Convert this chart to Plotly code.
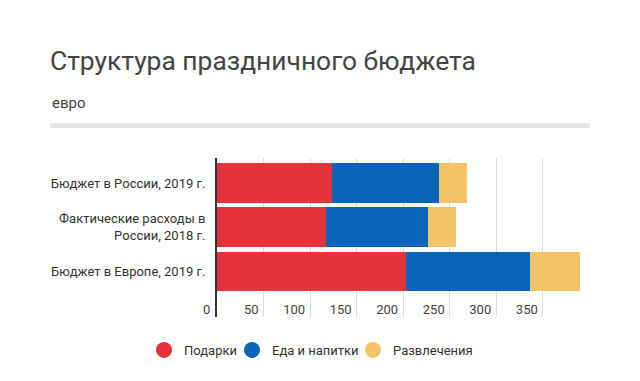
import plotly.graph_objects as go

categories = ["Бюджет в России, 2019 г.", "Фактические расходы в<br>России, 2018 г.", "Бюджет в Европе, 2019 г."]
series_names = ["Подарки", "Еда и напитки", "Развлечения"]
gifts = [124, 117, 203]
food = [114, 110, 133]
fun = [31, 30, 54]
x_ticks = [0, 50, 100, 150, 200, 250, 300, 350]
colors = ["#e5323b", "#0a64b8", "#f3c465"]

FONT = "Roboto"
fig = go.Figure()
for name, vals, col in zip(series_names, [gifts, food, fun], colors):
    fig.add_trace(go.Bar(y=categories, x=vals, name=name, orientation="h",
                         marker=dict(color=col, line=dict(width=0)), showlegend=False))

legend_px = [144, 232, 353]  # left edge of each legend box, in pixels
legend_names = ["legend", "legend2", "legend3"]
for name, col, lg in zip(series_names, colors, legend_names):
    fig.add_trace(go.Scatter(x=[None], y=[None], mode="markers", name=name, legend=lg,
                             marker=dict(color=col, size=16, symbol="circle")))

def px_x(p):
    return (p - 217) / 363

def px_y(p):
    return (317 - p) / 159

legend_common = dict(orientation="h", xanchor="left", yanchor="middle", y=px_y(350),
                     font=dict(size=13, color="#333"), itemwidth=30,
                     bgcolor="rgba(0,0,0,0)")

fig.update_layout(
    width=640, height=381,
    margin=dict(l=217, r=60, t=158, b=64),
    paper_bgcolor="white", plot_bgcolor="white",
    barmode="stack", bargap=0.1,
    font=dict(family=FONT, color="#444", size=13),
    title=dict(text="Структура праздничного бюджета", x=50/640, xanchor="left",
               y=1-61/381, yanchor="middle", yref="container",
               font=dict(family=FONT, size=26.4, color="#444")),
    xaxis=dict(range=[0, 390], tickvals=x_ticks, showgrid=True, gridcolor="#dcdcdc",
               gridwidth=1, zeroline=False, ticklabelposition="inside left",
               ticklabelshift=-5, ticklabelstandoff=-6, ticks="", ticklen=0,
               tickfont=dict(size=13, color="#444"), fixedrange=True),
    yaxis=dict(categoryorder="array", categoryarray=categories, range=[3.03, -0.565],
               showline=True, linecolor="#333", linewidth=2, showgrid=False,
               ticks="", ticklabelstandoff=7, tickfont=dict(size=13, color="#333")),
    legend=dict(x=px_x(legend_px[0]), **legend_common),
    legend2=dict(x=px_x(legend_px[1]), **legend_common),
    legend3=dict(x=px_x(legend_px[2]), **legend_common),
    annotations=[dict(text="евро", xref="paper", yref="paper", x=px_x(50),
                      y=px_y(103), xanchor="left", yanchor="middle", showarrow=False,
                      font=dict(family=FONT, size=15, color="#444")),
                 dict(text=str(x_ticks[0]), xref="x", yref="paper", x=x_ticks[0],
                      y=px_y(309), xanchor="right", yanchor="middle", xshift=-5,
                      showarrow=False, font=dict(family=FONT, size=13, color="#444"))],
    shapes=[dict(type="rect", xref="paper", yref="paper", x0=px_x(50), x1=px_x(590),
                 y0=px_y(128), y1=px_y(123), fillcolor="#e6e6e6", line=dict(width=0))],
)
fig.write_html("out.html", config={"displayModeBar": False},
               post_script="document.body.style.margin='0';")
